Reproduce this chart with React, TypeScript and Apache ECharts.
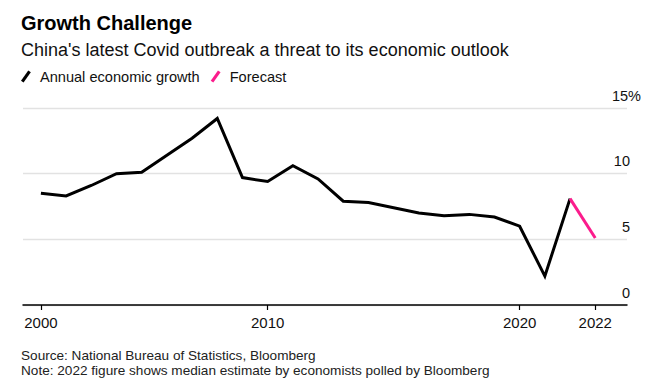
import React, { useEffect, useRef } from "react";
import * as echarts from "echarts";

// Annual real GDP growth, %, 2000-2021
const years = [2000, 2001, 2002, 2003, 2004, 2005, 2006, 2007, 2008, 2009, 2010, 2011, 2012, 2013, 2014, 2015, 2016, 2017, 2018, 2019, 2020, 2021];
const growth = [8.5, 8.3, 9.1, 10.0, 10.1, 11.4, 12.7, 14.2, 9.7, 9.4, 10.6, 9.6, 7.9, 7.8, 7.4, 7.0, 6.8, 6.9, 6.7, 6.0, 2.2, 8.1];
// Forecast segment
const forecastYears = [2021, 2022];
const forecast = [8.1, 5.1];
// X-axis ticks (positions, labels as printed on the chart)
const tickYears = [2000, 2009, 2019, 2022];
const tickLabels = ["2000", "2010", "2020", "2022"];
// Y-axis
const yMin = 0;
const yMax = 15;
const yStep = 5;

const FONT = "'Liberation Sans', Arial, sans-serif";
const PINK = "#fb1c8c";

export default function App() {
  const ref = useRef<HTMLDivElement>(null);

  useEffect(() => {
    if (!ref.current) return;
    const chart = echarts.init(ref.current, undefined, { renderer: "svg" });
    const slant = "path://M0,10 L7,0 L9.5,1.6 L2.5,11.6 Z";
    chart.setOption({
      animation: false,
      backgroundColor: "#ffffff",
      textStyle: { fontFamily: FONT },
      title: [
        {
          text: "Growth Challenge",
          left: 21,
          top: 13,
          padding: 0,
          textStyle: { fontFamily: FONT, fontSize: 20, fontWeight: "bold", color: "#000" },
        },
        {
          text: "China's latest Covid outbreak a threat to its economic outlook",
          left: 21,
          top: 41,
          padding: 0,
          textStyle: { fontFamily: FONT, fontSize: 18, fontWeight: "normal", color: "#111" },
        },
        {
          text: "Source: National Bureau of Statistics, Bloomberg",
          left: 21,
          top: 348,
          padding: 0,
          textStyle: { fontFamily: FONT, fontSize: 13.6, fontWeight: "normal", color: "#222" },
        },
        {
          text: "Note: 2022 figure shows median estimate by economists polled by Bloomberg",
          left: 21,
          top: 363,
          padding: 0,
          textStyle: { fontFamily: FONT, fontSize: 13.6, fontWeight: "normal", color: "#222" },
        },
      ],
      legend: {
        left: 21,
        top: 69,
        padding: 0,
        itemWidth: 10,
        itemHeight: 12,
        itemGap: 11,
        icon: slant,
        data: [
          { name: "Annual economic growth", itemStyle: { color: "#000" } },
          { name: "Forecast", itemStyle: { color: PINK } },
        ],
        textStyle: { fontFamily: FONT, fontSize: 14.6, color: "#111", padding: [0, 0, 0, 4] },
      },
      grid: {
        left: 23,
        right: 26,
        top: 108,
        bottom: 85,
        containLabel: false,
        outerBoundsMode: "none",
      },
      xAxis: {
        type: "value",
        min: 1999.29,
        max: 2023.26,
        axisLine: { show: true, onZero: false, lineStyle: { color: "#000", width: 1.5 } },
        axisTick: {
          show: true,
          customValues: tickYears,
          length: 5,
          lineStyle: { color: "#000", width: 1.2 },
        },
        axisLabel: {
          customValues: tickYears,
          formatter: (v: number) => {
            const i = tickYears.indexOf(Math.round(v));
            return i >= 0 ? tickLabels[i] : "";
          },
          fontFamily: FONT,
          fontSize: 15,
          color: "#111",
          margin: 10,
        },
        splitLine: { show: false },
      },
      yAxis: {
        type: "value",
        position: "right",
        min: yMin,
        max: yMax,
        interval: yStep,
        axisLine: { show: false },
        axisTick: { show: false },
        splitLine: { show: true, lineStyle: { color: "#e2e2e2", width: 1.3 } },
        axisLabel: {
          inside: false,
          margin: 14,
          align: "right",
          verticalAlign: "bottom",
          padding: [0, 0, 5, 0],
          fontFamily: FONT,
          fontSize: 14.5,
          color: "#111",
          formatter: (v: number) => (v === yMax ? `${v}%` : `${v}{p|}`),
          rich: { p: { width: 11 } },
        },
      },
      series: [
        {
          name: "Annual economic growth",
          type: "line",
          data: years.map((y, i) => [y, growth[i]]),
          showSymbol: false,
          symbol: "none",
          lineStyle: { color: "#000", width: 3, join: "miter" },
          itemStyle: { color: "#000" },
          z: 3,
        },
        {
          name: "Forecast",
          type: "line",
          data: forecastYears.map((y, i) => [y, forecast[i]]),
          showSymbol: false,
          symbol: "none",
          lineStyle: { color: PINK, width: 3 },
          itemStyle: { color: PINK },
          z: 4,
        },
      ],
    });
    return () => chart.dispose();
  }, []);

  return (
    <div
      ref={ref}
      style={{ position: "fixed", left: 0, top: 0, width: 653, height: 390, background: "#fff" }}
    />
  );
}
